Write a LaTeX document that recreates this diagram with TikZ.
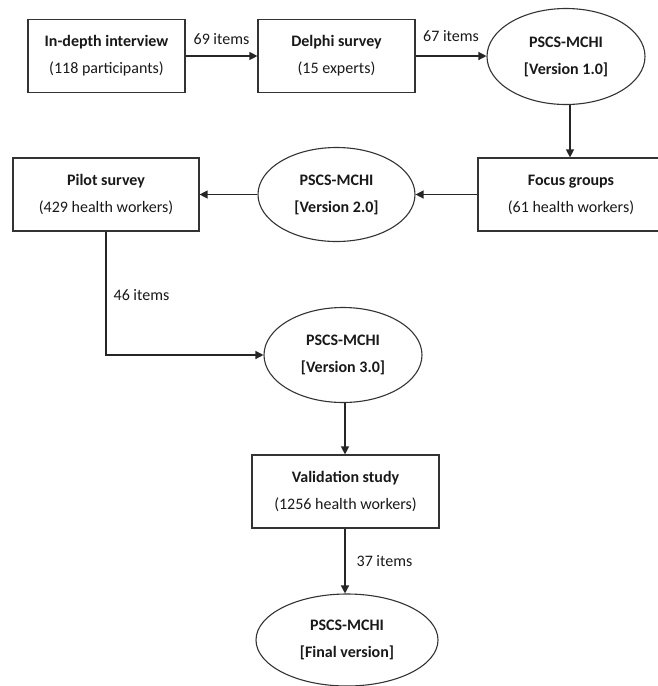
\documentclass[tikz,border=0pt]{standalone}
\usepackage{fontspec}
\setmainfont{Carlito}
\usetikzlibrary{arrows.meta,shapes.geometric}
\begin{document}
\begin{tikzpicture}[x=1pt,y=-1pt,
  every node/.style={font=\fontsize{16}{27}\selectfont, text=black!90, inner sep=0pt},
  stagebox/.style={draw=black!80, line width=1.2pt, rectangle, align=center},
  verell/.style={draw=black!80, line width=1.1pt, ellipse, align=center},
  conn/.style={draw=black!85, line width=1.3pt, -{Triangle[length=8pt,width=8pt]}},
  lbl/.style={text=black!90}
]
\useasboundingbox (0,0) rectangle (657,686);
% row 1
\node[stagebox, minimum width=157pt, minimum height=73pt] (interview) at (106.5,56) {\textbf{In-depth interview}\\(118 participants)};
\node[stagebox, minimum width=157pt, minimum height=73pt] (delphi) at (336.5,56) {\textbf{Delphi survey}\\(15 experts)};
\node[verell, minimum width=158pt, minimum height=96pt] (v1) at (566,56.5) {\textbf{PSCS-MCHI}\\\textbf{[Version 1.0]}};
% row 2
\node[stagebox, minimum width=186pt, minimum height=73pt] (focus) at (571,194.5) {\textbf{Focus groups}\\(61 health workers)};
\node[verell, minimum width=157pt, minimum height=94pt] (v2) at (336.5,194.5) {\textbf{PSCS-MCHI}\\\textbf{[Version 2.0]}};
\node[stagebox, minimum width=186pt, minimum height=73pt] (pilot) at (106,194.5) {\textbf{Pilot survey}\\(429 health workers)};
% row 3
\node[verell, minimum width=158pt, minimum height=95pt] (v3) at (343,355) {\textbf{PSCS-MCHI}\\\textbf{[Version 3.0]}};
\node[stagebox, minimum width=187pt, minimum height=73pt] (valid) at (345.5,491.5) {\textbf{Validation study}\\(1256 health workers)};
\node[verell, minimum width=182pt, minimum height=92pt] (final) at (347,640) {\textbf{PSCS-MCHI}\\\textbf{[Final version]}};
% connectors
\draw[conn] (interview.east) -- (delphi.west) node[lbl, midway, above=11pt] {69 items};
\draw[conn] (delphi.east) -- (delphi.east -| v1.west) node[lbl, midway, above=14pt] {67 items};
\draw[conn] (v1.south -| 570,0) -- (focus.north -| 570,0);
\draw[conn] (focus.west) -- (v2.east);
\draw[conn] (v2.west) -- (pilot.east);
\coordinate (bend) at (pilot.south |- v3.west);
\draw[conn] (pilot.south) -- (bend) -- (v3.west);
\node[lbl] (l46) at (141.5,295) {46 items};
\draw[conn] (v3.south -| 345,0) -- (valid.north -| 345,0);
\draw[conn] (valid.south -| 345,0) -- (final.north -| 345,0) node[lbl, midway, right=11pt] {37 items};
\end{tikzpicture}
\end{document}
